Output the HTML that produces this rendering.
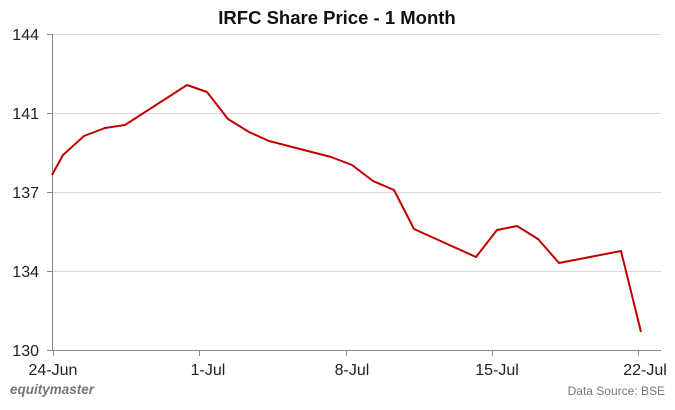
<!DOCTYPE html>
<html><head><meta charset="utf-8"><style>body{margin:0;background:#fff}svg{display:block}</style></head><body>
<svg width="675" height="410" xmlns="http://www.w3.org/2000/svg" font-family="Liberation Sans, sans-serif">
<text x="337" y="24" text-anchor="middle" font-size="18.5" font-weight="bold" fill="#111">IRFC Share Price - 1 Month</text>
<g stroke="#d9d9d9" stroke-width="1">
<line x1="52" x2="661" y1="34.5" y2="34.5"/><line x1="52" x2="661" y1="113.5" y2="113.5"/><line x1="52" x2="661" y1="192.5" y2="192.5"/><line x1="52" x2="661" y1="271.5" y2="271.5"/>
</g>
<g stroke="#888" stroke-width="1">
<line x1="52.5" x2="52.5" y1="34" y2="350"/><line x1="52" x2="661" y1="350.5" y2="350.5"/>
<line x1="47" x2="52" y1="34.5" y2="34.5"/><line x1="47" x2="52" y1="113.5" y2="113.5"/><line x1="47" x2="52" y1="192.5" y2="192.5"/><line x1="47" x2="52" y1="271.5" y2="271.5"/><line x1="47" x2="52" y1="350.5" y2="350.5"/>
<line x1="53.5" x2="53.5" y1="350" y2="356"/><line x1="199.5" x2="199.5" y1="350" y2="356"/><line x1="346.5" x2="346.5" y1="350" y2="356"/><line x1="492.5" x2="492.5" y1="350" y2="356"/><line x1="638.5" x2="638.5" y1="350" y2="356"/>
</g>
<g font-size="16" fill="#222" text-anchor="end">
<text x="39" y="40">144</text><text x="39" y="119">141</text><text x="39" y="198">137</text><text x="39" y="277">134</text><text x="39" y="356">130</text>
</g>
<g font-size="16" fill="#222" text-anchor="middle">
<text x="53" y="375">24-Jun</text><text x="208" y="375">1-Jul</text><text x="352" y="375">8-Jul</text><text x="497" y="375">15-Jul</text><text x="645" y="375">22-Jul</text>
</g>
<text x="10" y="394" font-size="13.5" font-weight="bold" font-style="italic" fill="#777">equitymaster</text>
<text x="665" y="395" font-size="12" fill="#777" text-anchor="end">Data Source: BSE</text>
<polyline fill="none" stroke="#c00000" stroke-width="2" stroke-linejoin="round" points="52,175 63,155 84,136 105,128 125,125 187,85 207,92 228,119 249,132 269,141 331,157 352,165 373,181 394,190 414,229 476,257 497,230 517,226 538,239 559,263 621,251 641,332"/>
</svg>
</body></html>
